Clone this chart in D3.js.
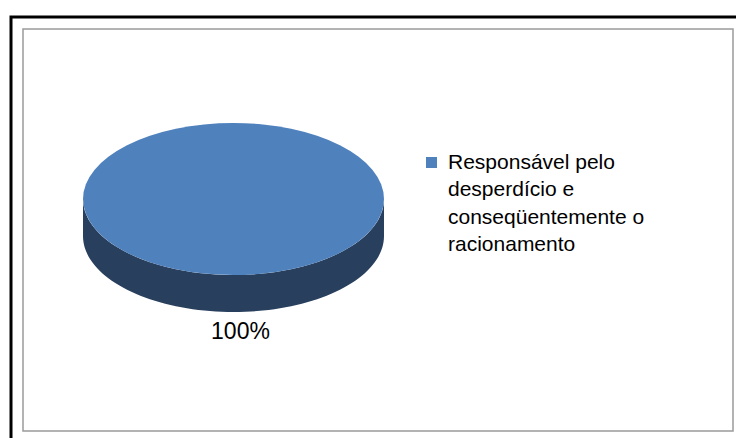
<!DOCTYPE html>
<html>
<head>
<meta charset="utf-8">
<script src="https://cdn.jsdelivr.net/npm/d3@7"></script>
<style>
  body { margin: 0; background: white; }
</style>
</head>
<body>
<div id="chart"></div>
<script>
// data
let categories = ['Responsável pelo desperdício e conseqüentemente o racionamento']
let legendLines = ['Responsável pelo', 'desperdício e', 'conseqüentemente o', 'racionamento']
let values = [100]
let colors = ['#4f81bd']
let sideColors = ['#283f5e']

let width = 736
let height = 438

let svg = d3
  .select('#chart')
  .append('svg')
  .attr('width', width)
  .attr('height', height)

// outer frame (black) and chart area (gray)
svg
  .append('rect')
  .attr('x', 11)
  .attr('y', 17)
  .attr('width', 740)
  .attr('height', 440)
  .attr('fill', 'white')
  .attr('stroke', 'black')
  .attr('stroke-width', 3)

svg
  .append('rect')
  .attr('x', 23)
  .attr('y', 29)
  .attr('width', 710)
  .attr('height', 402)
  .attr('fill', 'white')
  .attr('stroke', '#9a9a9a')
  .attr('stroke-width', 1.5)

// pie geometry
let cx = 233.5
let cy = 199
let rx = 150.5
let ry = 76
let depth = 37

let pie = d3.pie().sort(null).value(d => d)
let arcs = pie(values)

// point on the top ellipse for a d3 angle (0 = 12 o'clock, clockwise)
function pt(a, dy) {
  return [cx + rx * Math.sin(a), cy - ry * Math.cos(a) + dy]
}

let g = svg.append('g')

// side walls (only the front half is visible)
arcs.forEach((d, i) => {
  let a0 = Math.max(d.startAngle, Math.PI / 2)
  let a1 = Math.min(d.endAngle, Math.PI * 3 / 2)
  if (a1 <= a0) return
  let n = 80
  let top = d3.range(n + 1).map(k => pt(a0 + (a1 - a0) * k / n, 0))
  let bottom = d3.range(n + 1).map(k => pt(a1 - (a1 - a0) * k / n, depth))
  g.append('path')
    .attr('d', d3.line()(top.concat(bottom)) + 'Z')
    .attr('fill', sideColors[i])
})

// top face
let arc = d3.arc().innerRadius(0).outerRadius(rx)
g.selectAll('.slice')
  .data(arcs)
  .enter()
  .append('path')
  .attr('class', 'slice')
  .attr('d', arc)
  .attr('transform', `translate(${cx},${cy}) scale(1,${ry / rx})`)
  .attr('fill', (d, i) => colors[i])

// data label
g.selectAll('.label')
  .data(arcs)
  .enter()
  .append('text')
  .attr('class', 'label')
  .text(d => Math.round(d.value / d3.sum(values) * 100) + '%')
  .attr('x', cx + 7)
  .attr('y', cy + ry + depth + 27)
  .attr('text-anchor', 'middle')
  .attr('font-family', 'Liberation Sans, Arial, sans-serif')
  .attr('font-size', 23)
  .attr('fill', 'black')

// legend
let legend = svg.append('g').attr('transform', 'translate(426,157)')
legend
  .append('rect')
  .attr('width', 11)
  .attr('height', 11)
  .attr('fill', colors[0])

legend
  .append('text')
  .attr('font-family', 'Liberation Sans, Arial, sans-serif')
  .attr('font-size', 21)
  .attr('fill', 'black')
  .selectAll('tspan')
  .data(legendLines)
  .enter()
  .append('tspan')
  .attr('x', 22)
  .attr('y', (d, i) => 12 + i * 27.3)
  .text(d => d)
</script>
</body>
</html>
